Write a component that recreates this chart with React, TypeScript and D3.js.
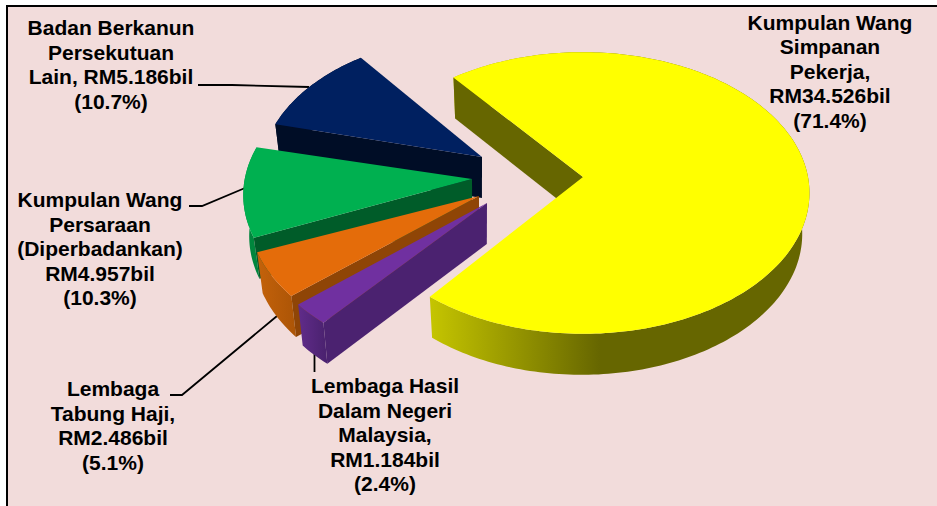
import React from "react";
import * as d3 from "d3";

// ---- data ----
const categories = [
  "Kumpulan Wang Simpanan Pekerja",
  "Lembaga Hasil Dalam Negeri Malaysia",
  "Lembaga Tabung Haji",
  "Kumpulan Wang Persaraan (Diperbadankan)",
  "Badan Berkanun Persekutuan Lain",
];
const valuesRM = [34.526, 1.184, 2.486, 4.957, 5.186];
const labelLines = [
  ["Kumpulan Wang", "Simpanan", "Pekerja,", "RM34.526bil", "(71.4%)"],
  ["Lembaga Hasil", "Dalam Negeri", "Malaysia,", "RM1.184bil", "(2.4%)"],
  ["Lembaga", "Tabung Haji,", "RM2.486bil", "(5.1%)"],
  ["Kumpulan Wang", "Persaraan", "(Diperbadankan)", "RM4.957bil", "(10.3%)"],
  ["Badan Berkanun", "Persekutuan", "Lain, RM5.186bil", "(10.7%)"],
];

// ---- styling and layout ----
const W = 937, H = 506;
const FRAME = { x: 7, y: 6 };
const BG = "#f2dcdb";
const R = 225, RK = 139, P = 0.1135, DEPTH = 41, LEAN = 0.025;
const START = (-38 * Math.PI) / 180;
const DEG = Math.PI / 180;
const topColor = ["#ffff00", "#7030a0", "#e46c0a", "#00b050", "#002060"];
const sideColor = ["#666600", "#4b2270", "#8f4506", "#005c29", "#000d26"];
const rimColor = ["url(#rimY)", "url(#rimP)", "url(#rimO)", "#00863d", "#000d26"];
const apex: [number, number][] = [[583, 177], [487, 203], [479, 196], [472, 179], [482, 157]];
const scaleOf = [1, 1.03, 1.02, 1.01, 0.975];
const rotOf = [-0.8, 1, 1.25, 0, 1];
const vanishX = [520, 480, 480, 480, 480];
const labelX = [830, 385, 113, 100, 111];
const labelY = [29.5, 393, 396, 207, 35];
const LINE_H = 24.6;
const leaders: [number, number][][] = [
  [],
  [[314.5, 354], [314.5, 372]],
  [[170, 395], [182, 395], [277, 316]],
  [[189, 206], [202, 206], [245, 188]],
  [[198, 85], [232, 85], [309, 87]],
];
const drawOrder = [0, 4, 3, 2, 1];

const arcs = d3
  .pie<number>()
  .sort(null)
  .value((d) => d)
  .startAngle(START)
  .endAngle(START + 2 * Math.PI)(valuesRM);

type Pt = [number, number];
const line = d3.line<Pt>();

function project(i: number, theta: number): Pt {
  const u = Math.sin(theta);
  const v = -Math.cos(theta);
  const w = 1 - P * v;
  const s = scaleOf[i];
  return [apex[i][0] + (s * R * u) / w, apex[i][1] + (s * RK * v) / w];
}
const drop = (i: number, p: Pt): Pt => [p[0] + (vanishX[i] - p[0]) * LEAN, p[1] + DEPTH];
const rimPts = (i: number): Pt[] => {
  const a0 = arcs[i].startAngle + rotOf[i] * DEG;
  const a1 = arcs[i].endAngle + rotOf[i] * DEG;
  const n = Math.max(6, Math.ceil((a1 - a0) / 0.02));
  return d3.range(n + 1).map((k) => project(i, a0 + ((a1 - a0) * k) / n));
};

function Slice({ i }: { i: number }) {
  const rim = rimPts(i);
  const A = apex[i] as Pt;
  const first = rim[0];
  const wall: Pt[] = [A, first, drop(i, first), drop(i, A)];
  const rimWall: Pt[] = [...rim, ...rim.map((p) => drop(i, p)).reverse()];
  const top: Pt[] = [A, ...rim];
  return (
    <g>
      <path d={line(rimWall)! + "Z"} fill={rimColor[i]} />
      <path d={line(wall)! + "Z"} fill={sideColor[i]} />
      <path d={line(top)! + "Z"} fill={topColor[i]} />
    </g>
  );
}

export default function App() {
  return (
    <svg
      width={W}
      height={H}
      viewBox={`0 0 ${W} ${H}`}
      style={{ position: "absolute", left: 0, top: 0, display: "block", background: "#ffffff" }}
      fontFamily="'Liberation Sans', Arial, sans-serif"
    >
      <defs>
        <linearGradient id="rimY" gradientUnits="userSpaceOnUse" x1={432} x2={600} y1={0} y2={0}>
          <stop offset="0" stopColor="#c4c400" />
          <stop offset="1" stopColor="#666600" />
        </linearGradient>
        <linearGradient id="rimP" gradientUnits="userSpaceOnUse" x1={300} x2={325} y1={0} y2={0}>
          <stop offset="0" stopColor="#5f2b88" />
          <stop offset="1" stopColor="#4b2270" />
        </linearGradient>
        <linearGradient id="rimO" gradientUnits="userSpaceOnUse" x1={260} x2={300} y1={0} y2={0}>
          <stop offset="0" stopColor="#c2610a" />
          <stop offset="1" stopColor="#a95306" />
        </linearGradient>
      </defs>
      <rect x={FRAME.x} y={FRAME.y} width={W - FRAME.x} height={H - FRAME.y} fill={BG} />
      <path d={`M${FRAME.x},${H}V${FRAME.y}H${W}`} fill="none" stroke="#000" strokeWidth={2} />
      {leaders.map((pts, i) =>
        pts.length ? (
          <path key={i} d={line(pts)!} fill="none" stroke="#000" strokeWidth={1.8} />
        ) : null
      )}
      {drawOrder.map((i) => (
        <Slice key={categories[i]} i={i} />
      ))}
      {labelLines.map((lines, i) => (
        <text key={i} textAnchor="middle" fontWeight={700} fontSize={21} fill="#000" x={labelX[i]}>
          {lines.map((t, k) => (
            <tspan key={k} x={labelX[i]} y={labelY[i] + k * LINE_H}>
              {t}
            </tspan>
          ))}
        </text>
      ))}
    </svg>
  );
}
